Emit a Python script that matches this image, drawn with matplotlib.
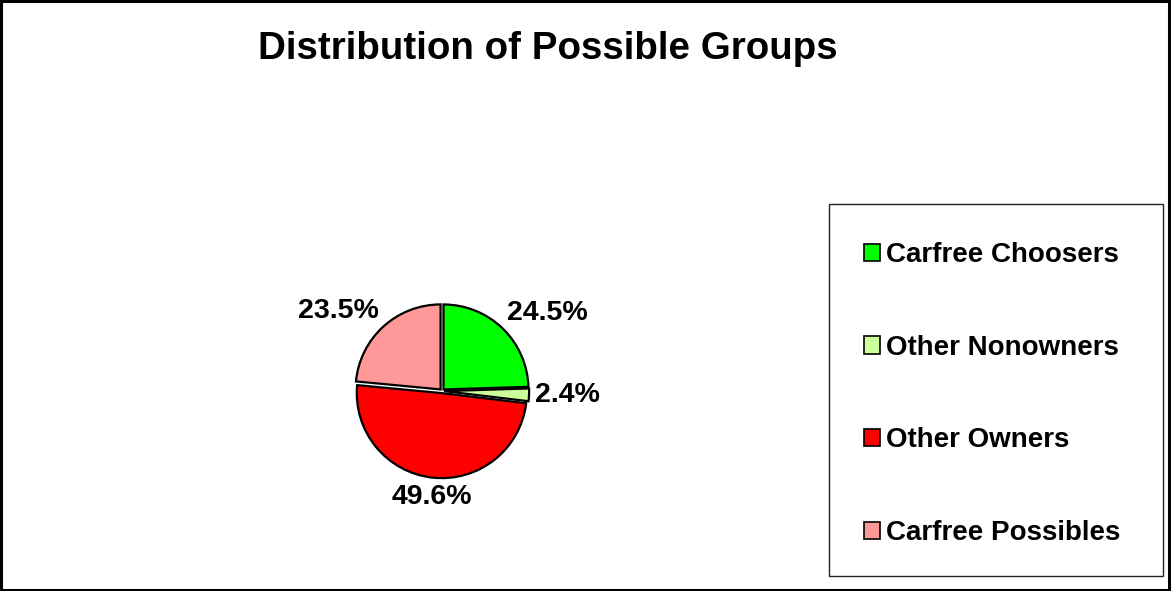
import numpy as np
import matplotlib.pyplot as plt
from matplotlib.patches import Rectangle, Patch

plt.rcParams['font.family'] = ['Liberation Sans', 'DejaVu Sans']

# data
groups = ['Carfree Choosers', 'Other Nonowners', 'Other Owners', 'Carfree Possibles']
shares = [24.5, 2.4, 49.6, 23.5]
colors = ['#00FF00', '#CCFF99', '#FF0000', '#FF9999']

W, H = 1171, 591
fig = plt.figure(figsize=(W / 100, H / 100), dpi=100)

# outer border
fig.patches.append(Rectangle((0.001, 0.002), 0.997, 0.996, transform=fig.transFigure,
                             fill=False, edgecolor='black', linewidth=2.2))

fig.text(548 / W, 1 - 49 / H, 'Distribution of Possible Groups', ha='center', va='center',
         fontsize=27.7, fontweight='bold')

# pie
cx, cy, r = 442, 391, 85
half = 110
ax = fig.add_axes([(cx - half) / W, (H - cy - half) / H, 2 * half / W, 2 * half / H])
wedges, _ = ax.pie(shares, colors=colors, startangle=90, counterclock=False,
                   explode=[0.025] * 4,
                   wedgeprops=dict(edgecolor='black', linewidth=1.6))
lim = half / r
ax.set_xlim(-lim, lim)
ax.set_ylim(-lim, lim)
ax.set_aspect('equal')
ax.axis('off')

for w, v in zip(wedges, shares):
    ang = np.deg2rad((w.theta1 + w.theta2) / 2)
    c, s = np.cos(ang), np.sin(ang)
    ha = 'left' if c > 0.3 else ('right' if c < -0.3 else 'center')
    va = 'bottom' if s > 0.3 else ('top' if s < -0.3 else 'center')
    ax.text(1.1 * c, 1.1 * s - (0.03 if s > 0.3 else 0), f'{v:.1f}%', ha=ha, va=va,
            fontsize=20.5, fontweight='bold', clip_on=False)

# legend box
fig.patches.append(Rectangle((829 / W, 1 - 576 / H), (1163 - 829) / W, (576 - 204) / H,
                             transform=fig.transFigure, fill=False,
                             edgecolor='#222222', linewidth=1.0))
handles = [Patch(facecolor=c, edgecolor='black', linewidth=1.2) for c in colors]
fig.legend(handles, groups, loc='center left', bbox_to_anchor=(864 / W, 1 - 394 / H),
           frameon=False, prop=dict(size=20, weight='bold'), handlelength=0.58,
           handleheight=0.58, handletextpad=0.22, labelspacing=2.4, borderpad=0,
           borderaxespad=0)

fig.savefig('out.png', dpi=100)
